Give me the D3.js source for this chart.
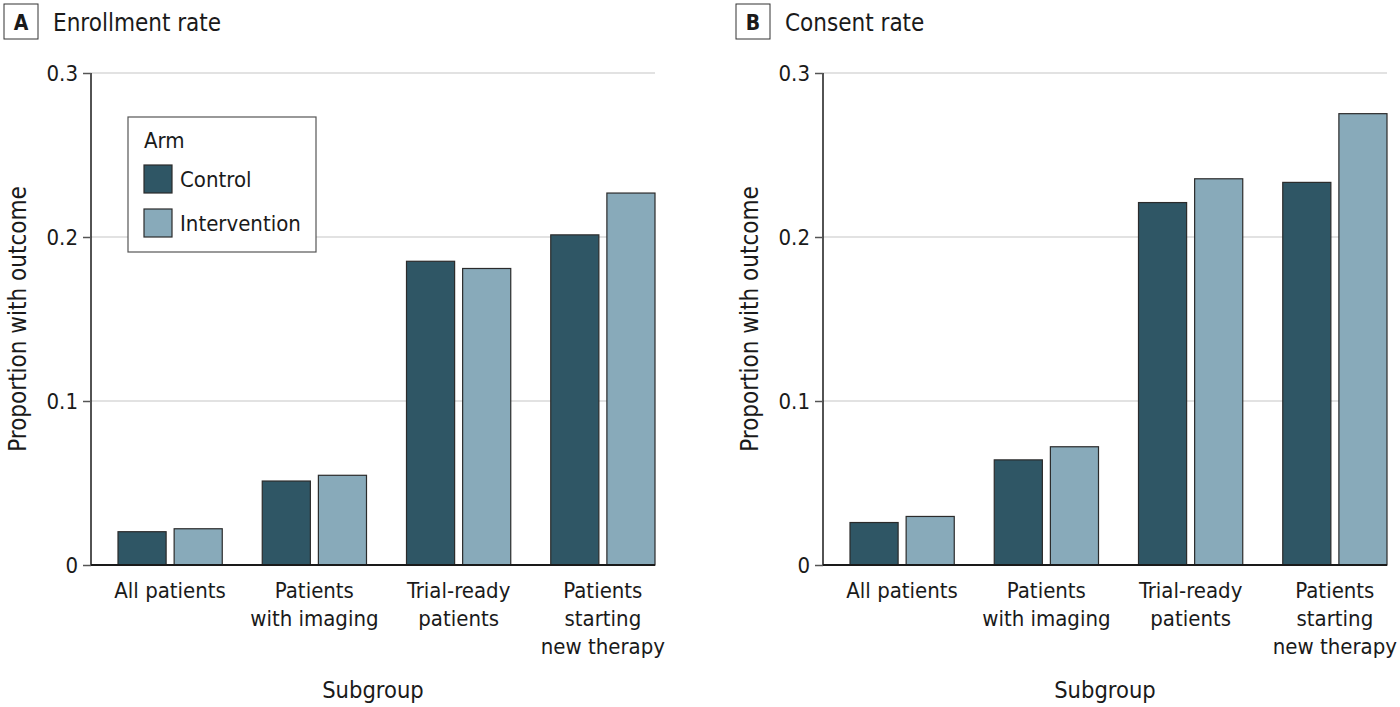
<!DOCTYPE html>
<html>
<head>
<meta charset="utf-8">
<script src="https://cdn.jsdelivr.net/npm/d3@7"></script>
<style>
  body { margin: 0; background: #fff; }
  text { font-family: "DejaVu Sans Condensed", "DejaVu Sans", sans-serif; fill: #1a1a1a; }
</style>
</head>
<body>
<div id="chart"></div>
<script>
// subgroups and arms
var subgroups = ["All patients", "Patients with imaging", "Trial-ready patients", "Patients starting new therapy"];
var subgroupLines = [["All patients"], ["Patients", "with imaging"], ["Trial-ready", "patients"], ["Patients", "starting", "new therapy"]];
var arms = ["Control", "Intervention"];

// proportions
var enrollControl = [0.0203, 0.0512, 0.1852, 0.2013];
var enrollIntervention = [0.0221, 0.0547, 0.1808, 0.2268];
var consentControl = [0.0259, 0.0641, 0.2210, 0.2333];
var consentIntervention = [0.0296, 0.0721, 0.2355, 0.2752];

var yTicks = [0, 0.1, 0.2, 0.3];

var width = 1400;
var height = 707;
var colors = { "Control": "#2f5665", "Intervention": "#88aaba" };

var svg = d3.select("#chart")
  .append("svg")
  .attr("width", width)
  .attr("height", height);

var plotTop = 73, plotBottom = 565;
var y = d3.scaleLinear().domain([0, 0.3]).range([plotBottom, plotTop]);

function drawPanel(left, right, letter, title, ctrl, intv, legend) {
  var g = svg.append("g");

  // panel letter + title
  g.append("rect")
    .attr("x", left - 87).attr("y", 4)
    .attr("width", 34).attr("height", 35)
    .attr("fill", "white").attr("stroke", "#333").attr("stroke-width", 1);
  g.append("text")
    .attr("x", left - 70).attr("y", 30)
    .attr("text-anchor", "middle")
    .style("font-size", "21px").style("font-weight", "bold")
    .text(letter);
  g.append("text")
    .attr("x", left - 38).attr("y", 31)
    .style("font-size", "24px")
    .text(title);

  // gridlines
  g.selectAll(".grid")
    .data(yTicks.filter(function (d) { return d > 0; }))
    .enter().append("line")
    .attr("x1", left).attr("x2", right)
    .attr("y1", function (d) { return y(d); })
    .attr("y2", function (d) { return y(d); })
    .attr("stroke", "#d9d9d9").attr("stroke-width", 1.5);

  var x0 = d3.scaleBand().domain(subgroups).range([left + 7, left + 584]);
  var step = x0.step();
  var x1 = d3.scaleBand().domain(arms).range([20, step - 20]).paddingInner(8 / 56);

  var rows = subgroups.map(function (s, i) {
    return { sub: s, vals: [{ arm: "Control", v: ctrl[i] }, { arm: "Intervention", v: intv[i] }] };
  });

  var grp = g.selectAll(".grp")
    .data(rows)
    .enter().append("g")
    .attr("transform", function (d) { return "translate(" + x0(d.sub) + ",0)"; });

  grp.selectAll("rect")
    .data(function (d) { return d.vals; })
    .enter().append("rect")
    .attr("x", function (d) { return x1(d.arm); })
    .attr("y", function (d) { return y(d.v); })
    .attr("width", x1.bandwidth())
    .attr("height", function (d) { return plotBottom - y(d.v); })
    .attr("fill", function (d) { return colors[d.arm]; })
    .attr("stroke", "#2b2b2b").attr("stroke-width", 1.2);

  // y axis
  var yAxis = d3.axisLeft(y)
    .tickValues(yTicks)
    .tickSize(8)
    .tickPadding(5)
    .tickFormat(function (d) { return d === 0 ? "0" : d3.format(".1f")(d); });
  var ya = g.append("g")
    .attr("transform", "translate(" + left + ",0)")
    .call(yAxis);
  ya.select(".domain").attr("stroke", "#1a1a1a").attr("stroke-width", 1.5)
    .attr("d", "M0," + plotTop + "V" + plotBottom);
  ya.selectAll(".tick line").attr("stroke", "#555").attr("stroke-width", 1.5);
  ya.selectAll(".tick text")
    .style("font-family", "'DejaVu Sans Condensed', 'DejaVu Sans', sans-serif")
    .style("font-size", "22px").attr("fill", "#1a1a1a").attr("dy", "0.36em");

  // x axis line
  g.append("line")
    .attr("x1", left).attr("x2", right)
    .attr("y1", plotBottom).attr("y2", plotBottom)
    .attr("stroke", "#1a1a1a").attr("stroke-width", 1.8);

  // category labels
  var lab = g.selectAll(".cat")
    .data(subgroups)
    .enter().append("text")
    .attr("text-anchor", "middle")
    .style("font-size", "22px");
  lab.selectAll("tspan")
    .data(function (d, i) { return subgroupLines[i].map(function (t) { return { t: t, c: x0(d) + step / 2 }; }); })
    .enter().append("tspan")
    .attr("x", function (d) { return d.c; })
    .attr("y", function (d, j) { return 598 + j * 28; })
    .text(function (d) { return d.t; });

  // axis titles
  g.append("text")
    .attr("x", (left + right) / 2).attr("y", 698)
    .attr("text-anchor", "middle")
    .style("font-size", "23.5px")
    .text("Subgroup");
  g.append("text")
    .attr("transform", "translate(" + (left - 65) + "," + ((plotTop + plotBottom) / 2) + ") rotate(-90)")
    .attr("text-anchor", "middle")
    .style("font-size", "24px")
    .text("Proportion with outcome");

  if (legend) {
    var lg = g.append("g");
    lg.append("rect")
      .attr("x", left + 37).attr("y", 117)
      .attr("width", 188).attr("height", 135)
      .attr("fill", "white").attr("stroke", "#555").attr("stroke-width", 1.2);
    lg.append("text")
      .attr("x", left + 53).attr("y", 148)
      .style("font-size", "22px")
      .text("Arm");
    var items = lg.selectAll(".item")
      .data(arms)
      .enter().append("g")
      .attr("transform", function (d, i) { return "translate(" + (left + 53) + "," + (165 + i * 44) + ")"; });
    items.append("rect")
      .attr("width", 28).attr("height", 28)
      .attr("fill", function (d) { return colors[d]; })
      .attr("stroke", "#2b2b2b").attr("stroke-width", 1.2);
    items.append("text")
      .attr("x", 36).attr("y", 22)
      .style("font-size", "22px")
      .text(function (d) { return d; });
  }
}

drawPanel(91, 655, "A", "Enrollment rate", enrollControl, enrollIntervention, true);
drawPanel(823, 1387, "B", "Consent rate", consentControl, consentIntervention, false);
</script>
</body>
</html>
